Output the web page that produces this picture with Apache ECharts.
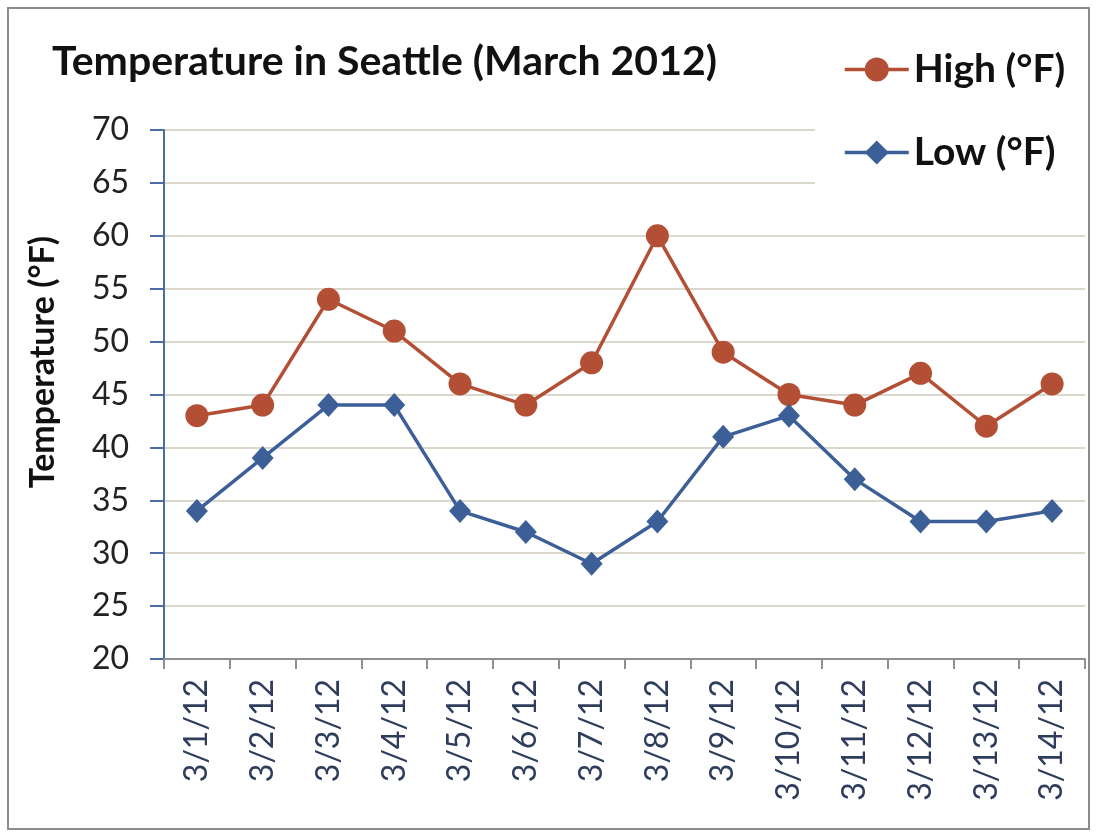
<!DOCTYPE html>
<html>
<head>
<meta charset="utf-8">
<script src="https://cdn.jsdelivr.net/npm/echarts@6/dist/echarts.min.js"></script>
<style>
html,body{margin:0;padding:0;background:#fff;}
#chart{width:1097px;height:837px;}
</style>
</head>
<body>
<div id="chart"></div>
<script>
const categories = ['3/1/12','3/2/12','3/3/12','3/4/12','3/5/12','3/6/12','3/7/12','3/8/12','3/9/12','3/10/12','3/11/12','3/12/12','3/13/12','3/14/12'];
const highF = [43, 44, 54, 51, 46, 44, 48, 60, 49, 45, 44, 47, 42, 46];
const lowF  = [34, 39, 44, 44, 34, 32, 29, 33, 41, 43, 37, 33, 33, 34];
const titleText = 'Temperature in Seattle (March 2012)';
const yAxisName = 'Temperature (°F)';
const seriesNames = ['High (°F)', 'Low (°F)'];

const FONT = 'Lato, "Open Sans", sans-serif';
const chart = echarts.init(document.getElementById('chart'), null, {renderer:'canvas'});
chart.setOption({
  animation: false,
  backgroundColor: '#fff',
  graphic: [{
    type: 'rect', z: 100, silent: true,
    shape: {x: 8, y: 8, width: 1081, height: 821},
    style: {fill: 'none', stroke: '#8c8c8c', lineWidth: 2}
  }, {
    type: 'text', silent: true,
    x: 43, y: 362, rotation: Math.PI / 2,
    style: {
      text: yAxisName, align: 'center', verticalAlign: 'middle',
      font: 'bold 34px Lato, "Open Sans", sans-serif', fill: '#111'
    }
  }],
  title: {
    text: titleText, left: 47, top: 36,
    textStyle: {fontFamily: FONT, fontWeight: 'bold', fontSize: 41, color: '#111'}
  },
  legend: {
    orient: 'vertical', left: 815, top: 38,
    padding: [12, 30, 36, 28],
    backgroundColor: '#fff',
    itemWidth: 64, itemHeight: 30, itemGap: 44,
    lineStyle: {width: 3.5},
    textStyle: {fontFamily: FONT, fontWeight: 'bold', fontSize: 39, color: '#111', padding: [0,0,0,0]},
    data: seriesNames
  },
  grid: {left: 164, right: 12, top: 130, bottom: 178, containLabel: false},
  xAxis: {
    type: 'category', data: categories, boundaryGap: true,
    axisLine: {lineStyle: {color: '#8f8f8f', width: 2}},
    axisTick: {show: true, length: 10, lineStyle: {color: '#8f8f8f', width: 2}},
    axisLabel: {rotate: 90, margin: 20, fontFamily: FONT, fontSize: 32, color: '#2f3d5c'},
    splitLine: {show: false}
  },
  yAxis: {
    type: 'value', min: 20, max: 70, interval: 5,
    axisLine: {show: true, lineStyle: {color: '#4a6fa8', width: 2}},
    axisTick: {show: true, length: 14, lineStyle: {color: '#4a6fa8', width: 2}},
    axisLabel: {margin: 35, fontFamily: FONT, fontSize: 32, color: '#222'},
    splitLine: {show: true, lineStyle: {color: '#dcd8cc', width: 2}}
  },
  series: [
    {
      name: seriesNames[0], type: 'line', data: highF,
      symbol: 'circle', symbolSize: 23,
      lineStyle: {color: '#b24f35', width: 3.5},
      itemStyle: {color: '#b24f35'}
    },
    {
      name: seriesNames[1], type: 'line', data: lowF,
      symbol: 'diamond', symbolSize: [22, 24],
      lineStyle: {color: '#3d5f98', width: 3.5},
      itemStyle: {color: '#3d5f98'}
    }
  ]
});
</script>
</body>
</html>
